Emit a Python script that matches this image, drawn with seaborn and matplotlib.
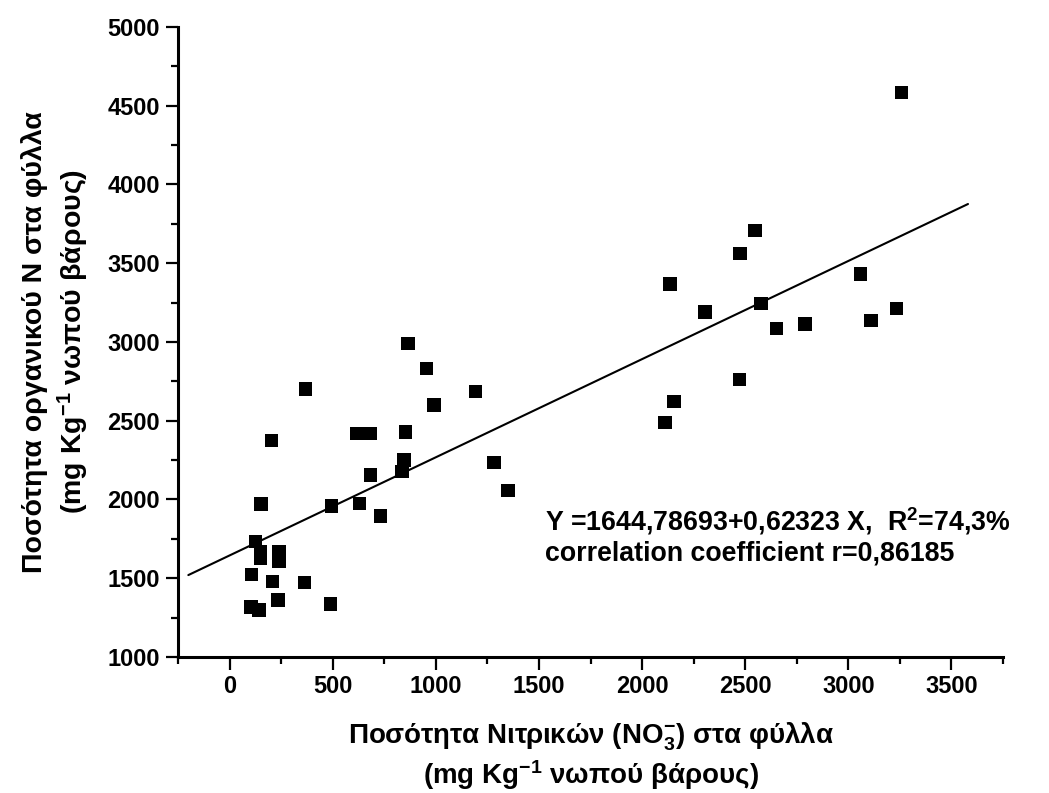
import numpy as np
import pandas as pd
import matplotlib
matplotlib.use("Agg")
import matplotlib.pyplot as plt
from matplotlib.ticker import MultipleLocator
import seaborn as sns

# nitrate in leaves (x) vs organic N in leaves (y), mg/kg fresh weight
nitrate = [204, 619, 683, 854, 845, 837, 683, 153, 495, 630, 732, 126, 150, 150,
           239, 239, 107, 207, 364, 234, 105, 142, 490, 368, 864, 955, 990, 1193,
           1282, 1351, 2154, 2110, 2304, 3257, 2547, 2474, 2134, 2577, 2651, 2789,
           3059, 3234, 3110, 2472]
organic_n = [2375, 2420, 2420, 2427, 2251, 2177, 2156, 1971, 1959, 1976, 1895, 1732,
             1669, 1629, 1669, 1605, 1525, 1478, 1472, 1362, 1319, 1298, 1336, 2700,
             2990, 2832, 2600, 2685, 2235, 2056, 2621, 2488, 3192, 4584, 3707, 3563,
             3368, 3245, 3086, 3114, 3432, 3214, 3135, 2763]

# fitted line from the reported equation
intercept = 1644.78693
slope = 0.62323
fit_x = np.array([-200, 3580])

df = pd.DataFrame({"x": nitrate, "y": organic_n})
fit = pd.DataFrame({"x": fit_x, "y": intercept + slope * fit_x})

sns.set_theme(style="ticks")
plt.rcParams["font.family"] = ["Liberation Sans", "DejaVu Sans"]
plt.rcParams["font.weight"] = "bold"
plt.rcParams["text.color"] = "black"
plt.rcParams["axes.labelcolor"] = "black"
plt.rcParams["xtick.color"] = "black"
plt.rcParams["ytick.color"] = "black"
plt.rcParams["mathtext.fontset"] = "custom"
plt.rcParams["mathtext.bf"] = "Liberation Sans:bold"
plt.rcParams["mathtext.rm"] = "Liberation Sans:bold"
plt.rcParams["mathtext.default"] = "bf"

fig = plt.figure(figsize=(10.49, 7.93), dpi=100)
ax = fig.add_axes([0.1697, 0.1715, 0.7865, 0.7945])

sns.lineplot(data=fit, x="x", y="y", ax=ax, color="black", linewidth=1.5)
sns.scatterplot(data=df, x="x", y="y", ax=ax, marker="s", s=95,
                color="black", edgecolor="none")

ax.set_xlim(-250, 3750)
ax.set_ylim(1000, 5000)
ax.xaxis.set_major_locator(MultipleLocator(500))
ax.xaxis.set_minor_locator(MultipleLocator(250))
ax.yaxis.set_major_locator(MultipleLocator(500))
ax.yaxis.set_minor_locator(MultipleLocator(250))
ax.set_xticks(np.arange(0, 3501, 500))

sns.despine(ax=ax)
for side in ["left", "bottom"]:
    ax.spines[side].set_linewidth(2.2)
    ax.spines[side].set_color("black")
ax.tick_params(which="major", length=9, width=1.6, color="black",
               labelsize=17, pad=4, labelcolor="black")
ax.tick_params(which="minor", length=5, width=1.6, color="black")
for lab in ax.get_xticklabels() + ax.get_yticklabels():
    lab.set_fontweight("bold")

ax.set_xlabel("Ποσότητα Νιτρικών (NO$_3^{-}$) στα φύλλα\n(mg Kg$^{-1}$ νωπού βάρους)",
              fontsize=20, fontweight="bold", labelpad=16, linespacing=1.2,
              color="black")
ax.set_ylabel("Ποσότητα οργανικού N στα φύλλα\n(mg Kg$^{-1}$ νωπού βάρους)",
              fontsize=20.5, fontweight="bold", labelpad=12, linespacing=1.3,
              color="black")

ax.text(1530, 1865, "Y =1644,78693+0,62323 X,  R$^2$=74,3%",
        fontsize=19.3, fontweight="bold", va="center", ha="left", color="black")
ax.text(1530, 1660, "correlation coefficient r=0,86185",
        fontsize=19.3, fontweight="bold", va="center", ha="left", color="black")

fig.savefig("out.png", dpi=100)
